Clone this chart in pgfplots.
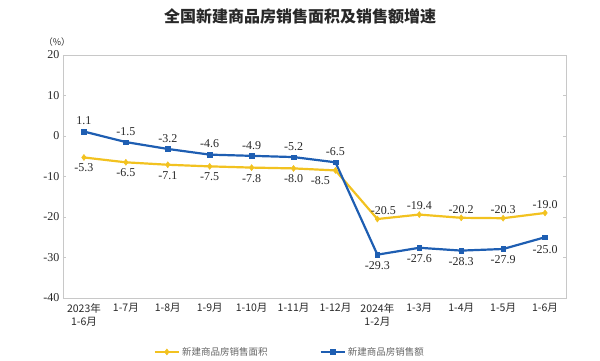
\documentclass[border=0pt]{standalone}
\usepackage{fontspec}
\setmainfont{Liberation Serif}
\newfontfamily\cjk{Noto Sans CJK SC}
\usepackage{pgfplots}
\pgfplotsset{compat=1.18}
\definecolor{ylw}{RGB}{242,194,32}
\definecolor{blu}{RGB}{30,94,178}
\definecolor{frm}{RGB}{200,200,200}
\definecolor{txt}{RGB}{40,40,40}
\begin{document}
\begin{tikzpicture}
\path[use as bounding box] (-63pt,-63pt) rectangle (537pt,298pt);
\begin{axis}[
  at={(0pt,0pt)}, anchor=south west,
  width=503pt, height=243pt, scale only axis,
  xmin=-0.5, xmax=11.5, ymin=-40, ymax=20,
  ytick={-40,-30,...,20},
  xtick={0,...,11},
  xticklabels={{2023年\\1-6月},1-7月,1-8月,1-9月,1-10月,1-11月,1-12月,{2024年\\1-2月},1-3月,1-4月,1-5月,1-6月},
  xticklabel style={align=center, font=\cjk\fontsize{10.5}{13}\selectfont, text=txt, anchor=north, yshift=-2pt},
  yticklabel style={font=\fontsize{12}{14}\selectfont, text=txt},
  /pgf/number format/assume math mode=true,
  extra x ticks={0.5,1.5,...,10.5},
  extra x tick labels={},
  extra x tick style={major tick length=4pt, tick style={draw=frm}},
  xtick style={draw=none},
  ytick style={draw=frm},
  tick align=inside,
  major tick length=3pt,
  axis line style={draw=frm, line width=0.8pt},
  legend columns=2,
  legend style={draw=none, at={(0.451,-0.222)}, anchor=center, font=\cjk\fontsize{9.5}{11}\selectfont, text=gray!80!black, /tikz/every even column/.append style={column sep=50pt}},
  legend image code/.code={\draw[#1, line width=2pt] (0cm,0cm) -- (0.85cm,0cm); \draw[#1, mark repeat=1, mark phase=1] plot coordinates {(0.42cm,0cm)};},
  nodes near coords style={font=\fontsize{12}{14}\selectfont, text=txt},
  clip=false,
]
\addplot[ylw, line width=2.2pt, mark=diamond*, mark size=3pt, mark options={line width=0.5pt}] coordinates {
(0,-5.3) (1,-6.5) (2,-7.1) (3,-7.5) (4,-7.8) (5,-8.0) (6,-8.5) (7,-20.5) (8,-19.4) (9,-20.2) (10,-20.3) (11,-19.0)};
\addlegendentry{新建商品房销售面积}
\addplot[blu, line width=2.2pt, mark=square*, mark size=2.3pt, mark options={line width=0.5pt}] coordinates {
(0,1.1) (1,-1.5) (2,-3.2) (3,-4.6) (4,-4.9) (5,-5.2) (6,-6.5) (7,-29.3) (8,-27.6) (9,-28.3) (10,-27.9) (11,-25.0)};
\addlegendentry{新建商品房销售额}
% labels
\addplot[draw=none, mark=none, forget plot, nodes near coords, nodes near coords align={below}, point meta=explicit symbolic, every node near coord/.append style={yshift=-3pt}] coordinates {
(0,-5.3) [-5.3] (1,-6.5) [-6.5] (2,-7.1) [-7.1] (3,-7.5) [-7.5] (4,-7.8) [-7.8] (5,-8.0) [-8.0]};
\addplot[draw=none, mark=none, forget plot, nodes near coords, point meta=explicit symbolic, every node near coord/.append style={anchor=north east, xshift=-2pt, yshift=-3pt}] coordinates {
(6,-8.5) [-8.5]};
\addplot[draw=none, mark=none, forget plot, nodes near coords, nodes near coords align={above}, point meta=explicit symbolic, every node near coord/.append style={yshift=1pt}] coordinates {
(8,-19.4) [-19.4] (9,-20.2) [-20.2] (10,-20.3) [-20.3] (11,-19.0) [-19.0]};
\addplot[draw=none, mark=none, forget plot, nodes near coords, nodes near coords align={above}, point meta=explicit symbolic, every node near coord/.append style={yshift=1pt, xshift=6pt}] coordinates {
(7,-20.5) [-20.5]};
\addplot[draw=none, mark=none, forget plot, nodes near coords, nodes near coords align={above}, point meta=explicit symbolic, every node near coord/.append style={yshift=3pt}] coordinates {
(0,1.1) [1.1] (1,-1.5) [-1.5] (2,-3.2) [-3.2] (3,-4.6) [-4.6] (4,-4.9) [-4.9] (5,-5.2) [-5.2] (6,-6.5) [-6.5]};
\addplot[draw=none, mark=none, forget plot, nodes near coords, nodes near coords align={below}, point meta=explicit symbolic, every node near coord/.append style={yshift=-3pt}] coordinates {
(7,-29.3) [-29.3] (8,-27.6) [-27.6] (9,-28.3) [-28.3] (10,-27.9) [-27.9]};
\addplot[draw=none, mark=none, forget plot, nodes near coords, nodes near coords align={below}, point meta=explicit symbolic, every node near coord/.append style={yshift=-5pt}] coordinates {
(11,-25.0) [-25.0]};
\end{axis}
\node[font=\cjk\bfseries\fontsize{16}{18}\selectfont, text=txt] at (237pt,282pt) {全国新建商品房销售面积及销售额增速};
\node[font=\cjk\fontsize{9}{10}\selectfont, text=txt] at (-6pt,256pt) {（\%）};
\end{tikzpicture}
\end{document}
